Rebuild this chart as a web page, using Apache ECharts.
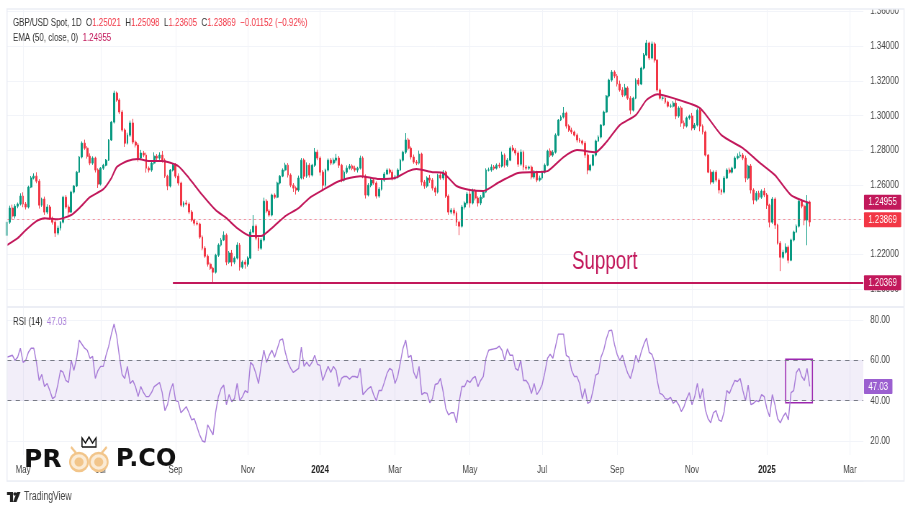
<!DOCTYPE html>
<html>
<head>
    <meta charset="utf-8">
    <title>GBP/USD Spot</title>
    <script src="https://cdn.jsdelivr.net/npm/echarts@6/dist/echarts.min.js"></script>
    <style>
        html, body { margin: 0; padding: 0; background: #fff; overflow: hidden; }
        #wrap { width: 912px; height: 513px; overflow: hidden; }
        /* original screenshot is squeezed sideways, so draw wide and squeeze it too */
        #main { height: 513px; transform-origin: 0 0; filter: blur(0.3px); }
    </style>
</head>
<body>
<div id="wrap"><div id="main"></div></div>
<script type="text/javascript">
    // daily closes, one bar every ~2.7px
    var closes = [
        1.2386,1.2467,1.2421,1.2478,1.2490,1.2536,1.2490,1.2473,1.2588,1.2640,
        1.2651,1.2622,1.2484,1.2519,1.2444,1.2473,1.2409,1.2386,1.2323,1.2352,
        1.2386,1.2530,1.2473,1.2444,1.2559,1.2594,1.2674,1.2761,1.2841,1.2812,
        1.2766,1.2726,1.2755,1.2686,1.2605,1.2697,1.2714,1.2743,1.2859,1.2962,
        1.3129,1.3089,1.3020,1.2916,1.2841,1.2887,1.2957,1.2847,1.2830,1.2755,
        1.2784,1.2772,1.2697,1.2686,1.2726,1.2766,1.2755,1.2772,1.2743,1.2651,
        1.2594,1.2686,1.2714,1.2651,1.2611,1.2484,1.2496,1.2490,1.2444,1.2398,
        1.2380,1.2375,1.2300,1.2236,1.2190,1.2144,1.2121,1.2098,1.2196,1.2254,
        1.2283,1.2311,1.2156,1.2208,1.2156,1.2179,1.2254,1.2127,1.2156,1.2144,
        1.2179,1.2329,1.2363,1.2294,1.2236,1.2283,1.2507,1.2450,1.2427,1.2542,
        1.2530,1.2611,1.2651,1.2686,1.2714,1.2657,1.2599,1.2582,1.2571,1.2640,
        1.2743,1.2651,1.2714,1.2657,1.2714,1.2789,1.2755,1.2674,1.2599,1.2686,
        1.2743,1.2726,1.2743,1.2755,1.2714,1.2628,1.2674,1.2697,1.2709,1.2697,
        1.2686,1.2697,1.2755,1.2651,1.2542,1.2599,1.2628,1.2611,1.2536,1.2576,
        1.2628,1.2663,1.2686,1.2674,1.2640,1.2646,1.2686,1.2743,1.2789,1.2859,
        1.2812,1.2761,1.2732,1.2726,1.2778,1.2617,1.2594,1.2640,1.2628,1.2582,
        1.2559,1.2657,1.2640,1.2674,1.2536,1.2444,1.2455,1.2438,1.2386,1.2363,
        1.2473,1.2496,1.2548,1.2496,1.2565,1.2525,1.2496,1.2530,1.2559,1.2686,
        1.2686,1.2703,1.2697,1.2714,1.2709,1.2772,1.2714,1.2743,1.2812,1.2801,
        1.2784,1.2720,1.2789,1.2703,1.2697,1.2703,1.2646,1.2674,1.2628,1.2640,
        1.2674,1.2714,1.2795,1.2772,1.2789,1.2887,1.2974,1.2991,1.3014,1.2939,
        1.2916,1.2905,1.2887,1.2859,1.2853,1.2841,1.2772,1.2686,1.2714,1.2772,
        1.2853,1.2876,1.2945,1.3020,1.3112,1.3204,1.3250,1.3227,1.3181,1.3147,
        1.3118,1.3158,1.3100,1.3031,1.3100,1.3204,1.3181,1.3273,1.3348,1.3417,
        1.3331,1.3412,1.3319,1.3147,1.3100,1.3100,1.3077,1.3054,1.3054,1.3071,
        1.2997,1.3043,1.2957,1.2939,1.2986,1.2997,1.2928,1.2945,1.3031,1.2939,
        1.2905,1.2772,1.2674,1.2617,1.2674,1.2628,1.2571,1.2559,1.2640,1.2686,
        1.2674,1.2697,1.2755,1.2766,1.2772,1.2755,1.2640,1.2709,1.2571,1.2513,
        1.2553,1.2530,1.2565,1.2542,1.2484,1.2386,1.2519,1.2369,1.2265,1.2184,
        1.2213,1.2242,1.2167,1.2283,1.2329,1.2363,1.2507,1.2478,1.2398,1.2502,
        1.23869
    ];
    // wick lengths past the candle body, in pips
    var upperWicks = [
        12,14,20,12,9,16,22,12,8,12,
        16,22,12,8,14,16,12,9,10,14,
        7,8,12,14,8,6,7,6,10,20,
        12,16,10,8,10,6,8,6,5,7,
        14,9,10,12,10,14,14,24,10,12,
        18,12,14,10,14,22,12,16,24,10,
        8,6,10,12,16,8,10,16,10,12,
        8,14,8,10,12,10,10,8,8,10,
        12,22,10,12,18,10,16,12,10,14,
        10,16,64,10,14,12,20,12,10,8,
        10,8,6,10,14,12,10,12,10,14,
        12,10,16,12,8,24,14,10,12,8,
        10,12,14,24,12,8,10,16,12,10,
        14,8,14,10,10,12,14,8,10,12,
        8,12,10,10,14,12,10,8,8,40,
        12,10,14,12,20,8,12,10,18,12,
        10,8,18,12,8,10,12,14,10,8,
        12,10,12,30,14,12,10,12,8,10,
        14,16,12,10,14,20,10,12,10,18,
        12,10,16,10,12,8,10,12,8,14,
        8,10,8,16,12,10,6,10,35,8,
        10,14,8,10,12,8,12,10,8,6,
        8,10,6,8,6,8,12,10,12,20,
        16,24,10,12,8,10,12,8,12,18,
        8,14,10,6,8,12,10,8,14,12,
        20,10,12,14,8,8,18,12,10,12,
        10,8,6,16,10,12,10,8,12,10,
        14,8,10,16,20,12,14,8,12,10,
        12,14,10,18,12,8,12,10,8,12,
        14,22,10,8,8,10,6,12,10,40,
        8
    ];
    var lowerWicks = [
        16,10,20,14,12,8,18,14,8,6,
        8,12,20,10,16,12,10,14,22,12,
        14,8,10,16,6,8,6,5,8,10,
        14,12,10,14,22,8,10,6,5,6,
        8,10,12,10,22,8,10,12,14,20,
        10,12,26,14,10,8,12,10,14,10,
        24,8,8,12,14,10,12,8,12,10,
        14,8,10,12,10,14,10,64,8,10,
        8,6,18,10,24,12,8,20,10,26,
        14,6,8,12,16,10,8,12,10,8,
        10,6,8,6,8,14,12,22,26,10,
        8,18,10,14,8,10,12,20,24,10,
        8,12,10,14,16,12,8,10,8,12,
        10,14,8,12,20,8,12,10,14,10,
        8,10,6,12,14,10,8,6,8,10,
        12,14,10,12,8,20,16,10,16,14,
        22,8,10,12,10,16,12,14,22,52,
        8,14,10,26,8,14,20,12,10,6,
        8,10,12,8,12,8,14,10,6,8,
        14,16,10,18,12,10,14,10,12,8,
        10,8,6,12,10,8,6,6,8,14,
        10,12,8,14,10,12,16,24,8,6,
        8,6,8,6,6,8,10,12,14,10,
        12,8,10,24,8,6,10,6,8,6,
        12,8,14,10,8,14,10,8,10,8,
        18,10,22,16,8,10,14,12,8,30,
        14,8,6,14,10,12,20,16,8,6,
        10,8,6,8,10,12,24,10,20,24,
        8,14,10,12,22,30,10,22,8,80,
        10,8,18,6,8,6,8,12,30,145,
        26
    ];

    // EMA (50) at its bends: bar number and value
    var emaBars = [0,4,7,11,14,19,24,27,31,36,39,41,45,49,53,58,64,68,73,78,82,86,91,95,99,104,109,113,118,124,132,139,145,150,153,159,163,168,173,178,184,191,197,202,208,213,220,224,229,235,239,243,249,259,267,275,281,287,293,300];
    var emaValues = [1.2254,1.2294,1.2340,1.2392,1.2409,1.2403,1.2427,1.2467,1.2530,1.2576,1.2640,1.2703,1.2738,1.2749,1.2738,1.2738,1.2709,1.2640,1.2542,1.2455,1.2409,1.2352,1.2306,1.2306,1.2352,1.2421,1.2467,1.2525,1.2571,1.2622,1.2651,1.2634,1.2640,1.2680,1.2692,1.2674,1.2669,1.2594,1.2571,1.2565,1.2617,1.2669,1.2674,1.2680,1.2761,1.2801,1.2789,1.2847,1.2945,1.3002,1.3089,1.3123,1.3100,1.3043,1.2887,1.2812,1.2732,1.2657,1.2542,1.24955];

    var rsiValues = [
        61.6,62,62.5,60,61.6,66,59,60,64,66,
        66,59,50,53,47,48.5,45,41,42,48,
        55,54,50,49,60,55,61,70,68,66,
        65,61,62,51,55,57,57,62.5,67,73,
        78,72,62,53,51,57,48.5,50,47,42,
        47,44,42,42,44,47,48,49,44,35,
        38,45,48.5,40,39.5,34,35.5,37,34,30.5,
        31,27,23,20,19.5,28,25.5,23,34.5,42,
        46,47.7,38,43,39.5,41,48.5,40,42,45,
        44,59,57.5,53.5,48.5,57.5,65,59,62.5,65,
        61.5,65.7,70,70.6,64,59,56,54,55,56,
        66.5,57,59,57,59,62.5,58,57.5,50,53.5,
        57,54,57,55,47,51,52,52,50.7,52,
        52,51.5,56,43,44.5,46,47,43,40,45,
        45,49,53.5,56,55,48.5,52,59,66,70,
        61.5,62.5,54,51,57,43,44,43.6,39,41,
        48,48.5,51,44.4,36,33,34,34,29,39.5,
        47,47,50,49,51,52,47,50,52,61,
        65,65.4,65.7,66,67,65,60,65.7,62.5,62.5,
        56,55,60,50,50,48,43.6,48.5,43,45,
        48,54,61,63,61,67,73,73,73,62.5,
        61.6,55,52,52,48.5,41,46,38.7,39.5,45,
        52.6,53.5,61.6,65,70.7,74.7,75,68,63,60,
        62.5,57.5,53.5,51,56,62.5,59,64,68,71,
        64,63,59,50,43.6,43,41,40.6,41.6,38.7,
        40,38,34.6,37,41,44,38,42,48.5,41,
        46,35.4,31,29,34,35,30.5,29.7,34.5,45,
        43.6,47,50,49.5,51,45,40,47.7,38,38.7,
        40,39.5,43,42,36,32,43,38,31,29,
        32,34,30.5,44,45,54,56,52,50,56,
        47.03
    ];

    var monthBars = [6,35,63,90,117,145,173,200,228,256,284,315];
    var monthLabels = ['May','Jul','Sep','Nov','2024','Mar','May','Jul','Sep','Nov','2025','Mar'];

    var emaLast = 1.24955;
    var closeLast = 1.23869;
    var supportLevel = 1.20369;
    var supportStartBar = 62;
    var rsiLast = 47.03;
    var rsiBandTop = 60;
    var rsiBandBottom = 40;
    var rsiBoxBars = [291, 301];
    var rsiBoxValues = [60.5, 39];

    var barCount = 321;
    var categories = [];
    for (var i = 0; i < barCount; i++) {
        categories.push(i);
    }

    var candles = closes.map(function (c, i) {
        var o = i > 0 ? closes[i - 1] : 1.2310;
        var hi = Math.max(o, c) + upperWicks[i] / 10000;
        var lo = Math.min(o, c) - lowerWicks[i] / 10000;
        return [o, c, lo, hi];
    });
    var emaData = emaBars.map(function (b, i) { return [b, emaValues[i]]; });

    // horizontal squeeze of the whole picture
    var SQUEEZE = 0.72;
    function sx(px) { return px / SQUEEZE; }

    var FONT = '"Liberation Sans",Arimo,sans-serif';
    var RED = '#F23645';
    var GREEN = '#089981';
    var EMA_COLOR = '#C2185B';
    var RSI_COLOR = '#A87CD8';
    var GRID_COLOR = '#F2F4F9';
    var FRAME_COLOR = '#ECEEF5';
    var EYE_COLOR = '#F2C58A';

    function endLabel(text, bg) {
        return {
            show: true, position: 'end', distance: 1, formatter: text,
            color: '#fff', backgroundColor: bg, fontFamily: FONT, fontSize: 11,
            padding: [2, 6, 2, 6], borderRadius: 1
        };
    }
    function isMonthBar(index) {
        return monthBars.indexOf(index) >= 0;
    }
    function eye(cx, tip) {
        return [
            { type: 'ellipse', z: 60, silent: true, shape: { cx: sx(cx), cy: 462, rx: sx(9), ry: 9 }, style: { fill: '#FBEBD5', stroke: EYE_COLOR, lineWidth: 2.5 } },
            { type: 'ellipse', z: 61, silent: true, shape: { cx: sx(cx), cy: 462, rx: sx(4.5), ry: 4.5 }, style: { fill: EYE_COLOR } },
            { type: 'polyline', z: 61, silent: true, shape: { points: [[sx(cx + tip * 3), 453], [sx(cx + tip * 8), 447]] }, style: { stroke: EYE_COLOR, lineWidth: 2.5, fill: 'none' } }
        ];
    }

    var mainEl = document.getElementById('main');
    mainEl.style.width = sx(912) + 'px';
    mainEl.style.transform = 'scaleX(' + SQUEEZE + ')';
    var chart = echarts.init(mainEl);

    var option = {
        animation: false,
        backgroundColor: '#fff',
        grid: [
            { left: sx(7), right: sx(49), top: 11.3, height: 277.9 },
            { left: sx(7), right: sx(49), top: 320, height: 161.3 },
            { left: sx(7), right: sx(49), top: 10, height: 445 }
        ],
        xAxis: [
            { type: 'category', gridIndex: 0, data: categories, boundaryGap: false, show: false },
            { type: 'category', gridIndex: 1, data: categories, boundaryGap: false, show: false },
            {
                type: 'category', gridIndex: 2, data: categories, boundaryGap: false,
                axisLine: { show: false },
                axisTick: { show: false },
                splitLine: { show: true, interval: isMonthBar, lineStyle: { color: GRID_COLOR } },
                axisLabel: {
                    interval: isMonthBar, margin: 9, color: '#444', fontFamily: FONT, fontSize: 11,
                    formatter: function (value) {
                        var label = monthLabels[monthBars.indexOf(Number(value))];
                        return /^\d/.test(label) ? '{y|' + label + '}' : label;
                    },
                    rich: { y: { fontWeight: 'bold', color: '#222', fontFamily: FONT, fontSize: 11 } }
                }
            }
        ],
        yAxis: [
            {
                type: 'value', gridIndex: 0, position: 'right', min: 1.2, max: 1.36, interval: 0.02,
                axisLine: { show: false }, axisTick: { show: false },
                splitLine: { lineStyle: { color: GRID_COLOR } },
                axisLabel: {
                    margin: sx(7), color: '#444', fontFamily: FONT, fontSize: 11,
                    formatter: function (v) { return v.toFixed(5); }
                }
            },
            {
                type: 'value', gridIndex: 1, position: 'right', min: 0, max: 80, interval: 20,
                axisLine: { show: false }, axisTick: { show: false },
                splitLine: { lineStyle: { color: GRID_COLOR } },
                axisLabel: {
                    margin: sx(7), color: '#444', fontFamily: FONT, fontSize: 11,
                    formatter: function (v) { return v === 0 ? '' : v.toFixed(2); }
                }
            },
            { type: 'value', gridIndex: 2, show: false }
        ],
        series: [
            {
                name: 'GBP/USD',
                type: 'candlestick',
                xAxisIndex: 0, yAxisIndex: 0,
                data: candles,
                barWidth: sx(1.7),
                itemStyle: { color: GREEN, color0: RED, borderColor: GREEN, borderColor0: RED, borderWidth: 1 },
                markLine: {
                    silent: true, symbol: ['none', 'none'], animation: false,
                    data: [
                        {
                            yAxis: closeLast,
                            lineStyle: { color: 'rgba(242,54,69,0.5)', type: [3, 4], width: 1 },
                            label: endLabel(closeLast.toFixed(5), RED)
                        },
                        [
                            { coord: [supportStartBar, supportLevel], lineStyle: { color: EMA_COLOR, type: 'solid', width: 2 }, label: endLabel(supportLevel.toFixed(5), EMA_COLOR) },
                            { coord: [barCount - 1, supportLevel] }
                        ]
                    ]
                }
            },
            {
                name: 'EMA',
                type: 'line',
                xAxisIndex: 0, yAxisIndex: 0,
                data: emaData,
                showSymbol: false,
                smooth: 0.2,
                lineStyle: { color: EMA_COLOR, width: 2 },
                markLine: {
                    silent: true, symbol: ['none', 'none'], animation: false,
                    data: [{
                        yAxis: emaLast,
                        lineStyle: { color: 'transparent', width: 0 },
                        label: endLabel(emaLast.toFixed(5), EMA_COLOR)
                    }]
                }
            },
            {
                name: 'RSI',
                type: 'line',
                xAxisIndex: 1, yAxisIndex: 1,
                data: rsiValues,
                showSymbol: false,
                lineStyle: { color: RSI_COLOR, width: 1.4 },
                markArea: {
                    silent: true,
                    data: [
                        [
                            { yAxis: rsiBandTop, itemStyle: { color: 'rgba(126,87,194,0.1)' } },
                            { yAxis: rsiBandBottom }
                        ],
                        [
                            { coord: [rsiBoxBars[0], rsiBoxValues[0]], itemStyle: { color: 'transparent', borderColor: '#9C27B0', borderWidth: 1.5 } },
                            { coord: [rsiBoxBars[1], rsiBoxValues[1]] }
                        ]
                    ]
                },
                markLine: {
                    silent: true, symbol: ['none', 'none'], animation: false,
                    data: [
                        { yAxis: rsiBandTop, lineStyle: { color: '#787B86', type: [6, 6], width: 1 }, label: { show: false } },
                        { yAxis: rsiBandBottom, lineStyle: { color: '#787B86', type: [6, 6], width: 1 }, label: { show: false } },
                        { yAxis: rsiLast, lineStyle: { color: 'transparent', width: 0 }, label: endLabel(rsiLast.toFixed(2), '#9B5FD0') }
                    ]
                }
            }
        ],
        graphic: [
            // white strip cuts the top tick label like the original pane does
            { type: 'rect', z: 50, silent: true, shape: { x: 0, y: 0, width: sx(912), height: 9 }, style: { fill: '#fff' } },
            { type: 'rect', z: 51, silent: true, shape: { x: sx(7), y: 9, width: sx(897), height: 472 }, style: { fill: 'none', stroke: FRAME_COLOR, lineWidth: 1.5 } },
            { type: 'line', z: 51, silent: true, shape: { x1: sx(7), y1: 307, x2: sx(904), y2: 307 }, style: { stroke: FRAME_COLOR, lineWidth: 2 } },
            {
                type: 'text', z: 60, silent: true, left: sx(13), top: 17,
                style: {
                    text: 'GBP/USD Spot, 1D  {k|O}{v|1.25021}  {k|H}{v|1.25098}  {k|L}{v|1.23605}  {k|C}{v|1.23869}  {v|\u22120.01152 (\u22120.92%)}',
                    fill: '#333', font: '11px ' + FONT,
                    rich: { k: { fill: '#333', font: '11px ' + FONT }, v: { fill: RED, font: '11px ' + FONT } }
                }
            },
            {
                type: 'text', z: 60, silent: true, left: sx(13), top: 32,
                style: {
                    text: 'EMA (50, close, 0)  {e|1.24955}',
                    fill: '#333', font: '11px ' + FONT,
                    rich: { e: { fill: EMA_COLOR, font: '11px ' + FONT } }
                }
            },
            {
                type: 'text', z: 60, silent: true, left: sx(13), top: 316,
                style: {
                    text: 'RSI (14)  {r|47.03}',
                    fill: '#333', font: '11px ' + FONT,
                    rich: { r: { fill: RSI_COLOR, font: '11px ' + FONT } }
                }
            },
            { type: 'text', z: 60, silent: true, left: sx(572), top: 249, style: { text: 'Support', fill: EMA_COLOR, font: '26px ' + FONT } },
            // logo, kept at its own wide proportions
            { type: 'text', z: 60, silent: true, left: sx(24), top: 448, scaleX: 1 / SQUEEZE, style: { text: 'PR', fill: '#111', font: 'bold 25px "DejaVu Sans"' } },
            { type: 'text', z: 60, silent: true, left: sx(116), top: 448, scaleX: 1 / SQUEEZE, style: { text: 'P.CO', fill: '#111', font: 'bold 24px "DejaVu Sans"' } }
        ].concat(eye(79, -1), eye(98.7, 1), [
            { type: 'polyline', z: 61, silent: true, shape: { points: [[sx(82), 447], [sx(82), 438], [sx(85.5), 443], [sx(89), 437], [sx(92.5), 443], [sx(96), 438], [sx(96), 447], [sx(82), 447]] }, style: { fill: 'none', stroke: '#111', lineWidth: 1.6 } },
            // TradingView mark
            { type: 'polygon', z: 60, silent: true, shape: { points: [[sx(7), 492], [sx(13), 492], [sx(13), 502], [sx(10), 502], [sx(10), 495], [sx(7), 495]] }, style: { fill: '#222' } },
            { type: 'ellipse', z: 60, silent: true, shape: { cx: sx(15), cy: 494, rx: sx(1.7), ry: 1.7 }, style: { fill: '#222' } },
            { type: 'polygon', z: 60, silent: true, shape: { points: [[sx(17), 492], [sx(20.5), 492], [sx(16.5), 502], [sx(13), 502]] }, style: { fill: '#222' } },
            { type: 'text', z: 60, silent: true, left: sx(24), top: 491, style: { text: 'TradingView', fill: '#444', font: '12px ' + FONT } }
        ])
    };

    chart.setOption(option);
</script>
</body>
</html>
